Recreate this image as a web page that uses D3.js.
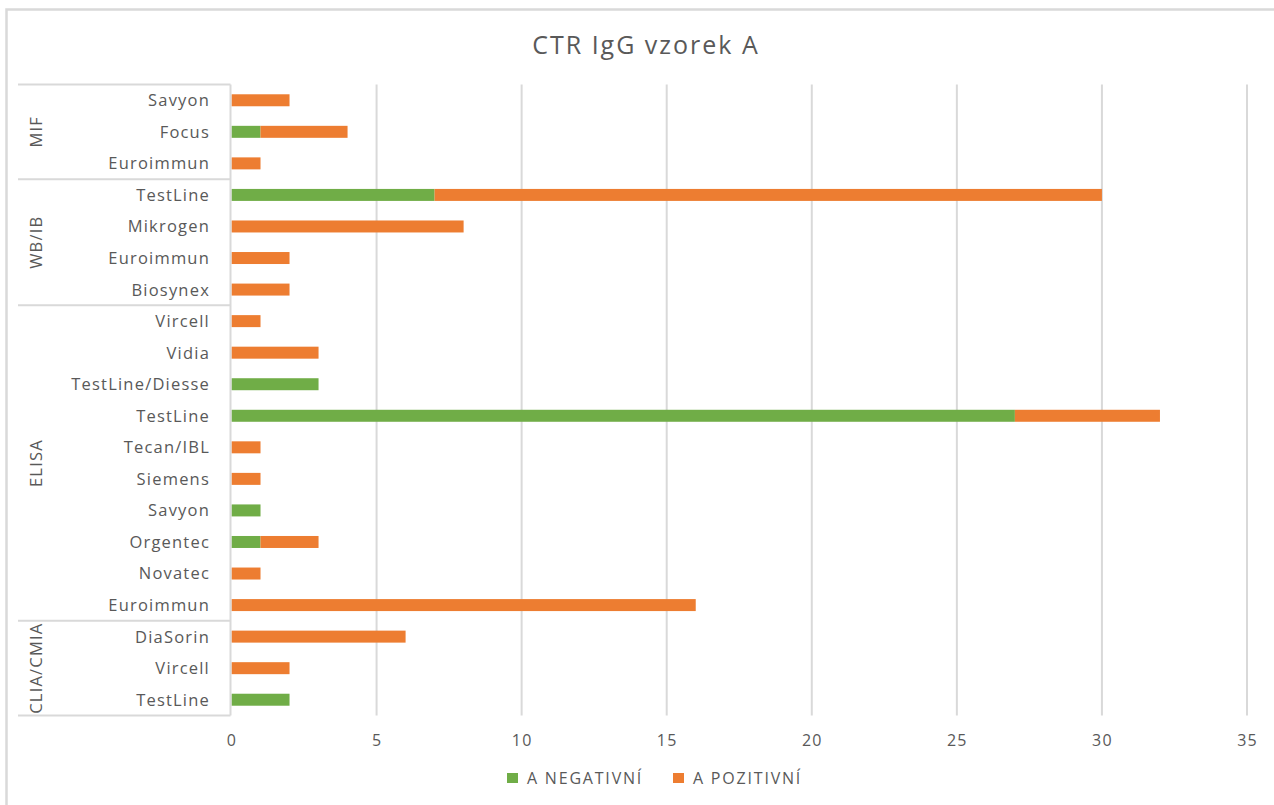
<!DOCTYPE html>
<html>
<head>
<meta charset="utf-8">
<script src="https://cdn.jsdelivr.net/npm/d3@7"></script>
<style>
  body { margin: 0; background: #fff; }
  text { font-family: "Open Sans", Lato, sans-serif; fill: #595959; }
</style>
</head>
<body>
<script>
(function(){

	// top to bottom, as drawn
	var groups = ["MIF", "WB/IB", "ELISA", "CLIA/CMIA"];
	var groupOf = ["MIF","MIF","MIF",
		"WB/IB","WB/IB","WB/IB","WB/IB",
		"ELISA","ELISA","ELISA","ELISA","ELISA","ELISA","ELISA","ELISA","ELISA","ELISA",
		"CLIA/CMIA","CLIA/CMIA","CLIA/CMIA"];
	var categories = ["Savyon","Focus","Euroimmun",
		"TestLine","Mikrogen","Euroimmun","Biosynex",
		"Vircell","Vidia","TestLine/Diesse","TestLine","Tecan/IBL","Siemens","Savyon","Orgentec","Novatec","Euroimmun",
		"DiaSorin","Vircell","TestLine"];
	var negativni = [0,1,0, 7,0,0,0, 0,0,3,27,0,0,1,1,0,0, 0,0,2];
	var pozitivni = [2,3,1, 23,8,2,2, 1,3,0,5,1,1,0,2,1,16, 6,2,0];
	var seriesNames = ["A NEGATIVNÍ", "A POZITIVNÍ"];
	var xTicks = [0,5,10,15,20,25,30,35];

	const W = 1274, H = 805;
	const PLOT_LEFT = 231.5, PLOT_RIGHT = 1247;
	const PLOT_TOP = 84.5, PLOT_BOTTOM = 715.5;
	const GRID = "#d9d9d9";
	const COLORS = ["#70ad47", "#ed7d31"];

	var svg = d3.select("body").append("svg")
		.attr("width", W).attr("height", H);

	// chart border (only left and top visible)
	svg.append("path")
		.attr("d", "M6.5," + H + "V9.5H" + W)
		.attr("fill", "none").attr("stroke", GRID).attr("stroke-width", 2.5);

	svg.append("text")
		.attr("x", 646).attr("y", 54)
		.attr("text-anchor", "middle")
		.style("font-size", "25px")
		.style("letter-spacing", "2px")
		.text("CTR IgG vzorek A");

	var x = d3.scaleLinear().domain([0, 35]).range([PLOT_LEFT, PLOT_RIGHT]);
	var keys = d3.range(categories.length);
	var y = d3.scaleBand().domain(keys).range([PLOT_TOP, PLOT_BOTTOM]).paddingInner(0.62).paddingOuter(0.31);

	// gridlines
	svg.append("g").selectAll("line").data(xTicks.slice(1)).enter().append("line")
		.attr("x1", d => x(d)).attr("x2", d => x(d))
		.attr("y1", PLOT_TOP).attr("y2", PLOT_BOTTOM)
		.attr("stroke", GRID).attr("stroke-width", 2);

	// x axis labels
	var xAxis = d3.axisBottom(x).tickValues(xTicks).tickSize(0).tickPadding(19);
	var gx = svg.append("g").attr("transform", "translate(0," + PLOT_BOTTOM + ")").call(xAxis);
	gx.select(".domain").remove();
	gx.selectAll("text").style("font-size", "16px").style("fill", "#595959")
		.style("font-family", "\"Open Sans\", sans-serif").style("letter-spacing", "1.2px");

	// stacked bars
	var rows = keys.map(i => ({ i: i, neg: negativni[i], poz: pozitivni[i] }));
	var stack = d3.stack().keys(["neg", "poz"])(rows);
	svg.append("g").selectAll("g").data(stack).enter().append("g")
		.attr("fill", (d, k) => COLORS[k])
		.selectAll("rect").data(d => d.filter(p => p[1] > p[0])).enter().append("rect")
		.attr("x", d => x(d[0]))
		.attr("y", d => y(d.data.i))
		.attr("width", d => x(d[1]) - x(d[0]))
		.attr("height", y.bandwidth());

	// category axis
	svg.append("line")
		.attr("x1", PLOT_LEFT - 1).attr("x2", PLOT_LEFT - 1)
		.attr("y1", PLOT_TOP).attr("y2", PLOT_BOTTOM)
		.attr("stroke", GRID).attr("stroke-width", 2);

	svg.append("g").selectAll("text").data(keys).enter().append("text")
		.attr("x", 210)
		.attr("y", d => y(d) + y.bandwidth() / 2)
		.attr("dy", "0.36em")
		.attr("text-anchor", "end")
		.style("font-size", "16.5px")
		.style("letter-spacing", "1.2px")
		.text(d => categories[d]);

	// group separators and labels
	var step = y.step();
	var bounds = groups.map(g => {
		var idx = keys.filter(i => groupOf[i] === g);
		return { g: g, top: PLOT_TOP + d3.min(idx) * step, bottom: PLOT_TOP + (d3.max(idx) + 1) * step };
	});
	var seps = [PLOT_TOP].concat(bounds.map(b => b.bottom));
	svg.append("g").selectAll("line").data(seps).enter().append("line")
		.attr("x1", 18).attr("x2", PLOT_LEFT - 1)
		.attr("y1", d => d).attr("y2", d => d)
		.attr("stroke", GRID).attr("stroke-width", 2);

	svg.append("g").selectAll("text").data(bounds).enter().append("text")
		.attr("transform", d => "translate(42," + ((d.top + d.bottom) / 2) + ") rotate(-90)")
		.attr("text-anchor", "middle")
		.style("font-size", "16.5px")
		.style("letter-spacing", "1.2px")
		.text(d => d.g);

	// legend
	var legendX = [507, 673];
	var lg = svg.append("g").selectAll("g").data(seriesNames).enter().append("g")
		.attr("transform", (d, k) => "translate(" + legendX[k] + ",778)");
	lg.append("rect").attr("x", 0).attr("y", -5).attr("width", 11).attr("height", 10)
		.attr("fill", (d, k) => COLORS[k]);
	lg.append("text").attr("x", 20).attr("dy", "0.36em")
		.style("font-size", "16px").style("letter-spacing", "1.8px")
		.text(d => d);

})();
</script>
</body>
</html>
